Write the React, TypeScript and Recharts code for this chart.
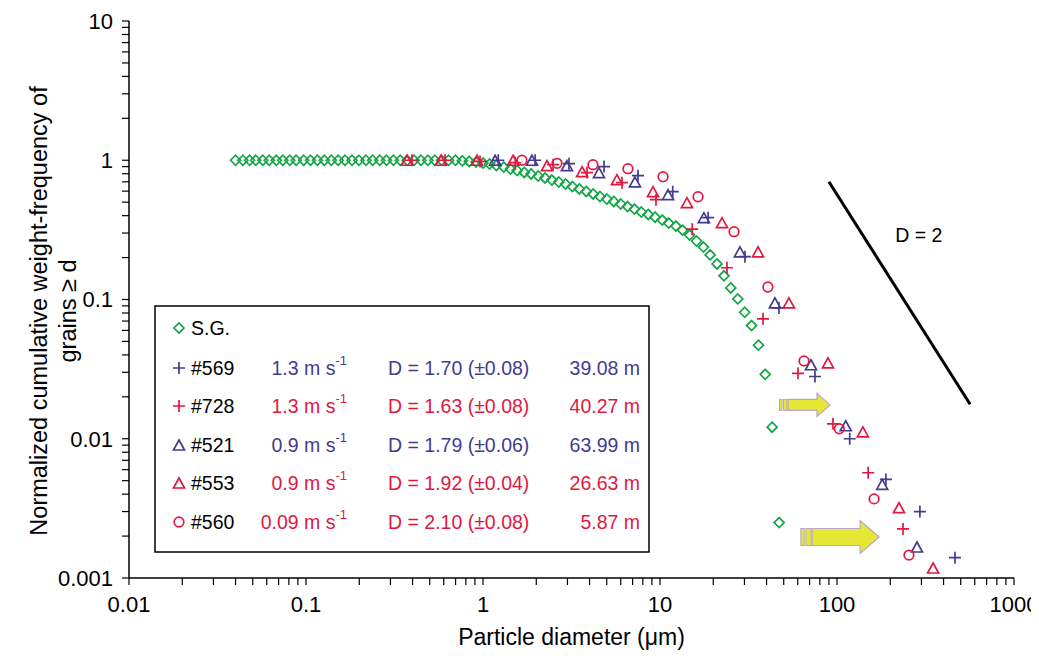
import React from 'react';
import { ScatterChart, Scatter, XAxis, YAxis, ReferenceLine, ReferenceDot, Legend, Label } from 'recharts';

const FONT = '"Liberation Sans", Arial, Helvetica, sans-serif';
const GREEN = '#12a546';
const BLUE = '#433b90';
const RED = '#e2173f';

// S.G. (diameter in um, cumulative fraction)
const SG_D = [
  0.040, 0.044, 0.048, 0.052, 0.057, 0.062, 0.068, 0.074, 0.081, 0.088, 0.097, 0.106, 0.116, 0.127,
  0.139, 0.152, 0.166, 0.182, 0.199, 0.218, 0.238, 0.261, 0.285, 0.312, 0.341, 0.373, 0.408, 0.446,
  0.488, 0.534, 0.584, 0.639, 0.699, 0.764, 0.836, 0.914, 1.0, 1.09, 1.19, 1.31, 1.43, 1.56, 1.71,
  1.87, 2.05, 2.24, 2.45, 2.68, 2.93, 3.2, 3.5, 3.83, 4.19, 4.58, 5.01, 5.48, 6.0, 6.56, 7.17, 7.84,
  8.58, 9.38, 10.3, 11.2, 12.3, 13.4, 14.7, 16.1, 17.6, 19.2, 21.0, 23.0, 25.1, 27.5, 30.1, 32.9,
  36.0, 39.3, 43.0, 47.1,
];
const SG_F = [
  1, 1, 1, 1, 1, 1, 1, 1, 1, 1, 1, 1, 1, 1, 1, 1, 1, 1, 1, 1, 1, 1, 1, 1, 1, 1, 1, 1, 1, 1, 1, 1, 1,
  0.99, 0.98, 0.97, 0.955, 0.94, 0.917, 0.894, 0.865, 0.844, 0.817, 0.797, 0.771, 0.746, 0.721,
  0.698, 0.675, 0.648, 0.622, 0.597, 0.573, 0.549, 0.527, 0.506, 0.485, 0.465, 0.446, 0.425, 0.408,
  0.39, 0.372, 0.354, 0.337, 0.315, 0.29, 0.263, 0.238, 0.209, 0.18, 0.148, 0.121, 0.101, 0.081,
  0.065, 0.047, 0.029, 0.0121, 0.0025,
];

const S569_D = [1.22, 1.97, 3.06, 4.83, 7.51, 11.8, 18.7, 30.2, 47.0, 75.1, 118, 189, 294, 464];
const S569_F = [1.0, 1.0, 0.945, 0.9, 0.775, 0.595, 0.387, 0.203, 0.087, 0.028, 0.01, 0.0051, 0.003, 0.0014];

const S728_D = [0.397, 0.61, 0.962, 1.52, 2.49, 3.87, 6.1, 9.49, 15.2, 23.9, 38.2, 60.2, 94.9, 150, 236];
const S728_F = [1.0, 1.0, 0.98, 0.96, 0.93, 0.815, 0.69, 0.521, 0.32, 0.169, 0.0727, 0.0295, 0.0128, 0.0057, 0.00225];

const S521_D = [1.17, 1.89, 2.98, 4.52, 7.22, 11.1, 17.7, 28.3, 44.6, 71.3, 112, 180, 283];
const S521_F = [1.0, 1.0, 0.915, 0.815, 0.7, 0.566, 0.387, 0.22, 0.0947, 0.034, 0.0124, 0.0047, 0.00167];

const S553_D = [0.372, 0.579, 0.925, 1.48, 2.3, 3.63, 5.71, 9.13, 14.2, 22.4, 35.8, 53.5, 88.9, 140, 224, 349];
const S553_F = [1.0, 1.0, 1.0, 1.0, 0.915, 0.828, 0.725, 0.595, 0.496, 0.356, 0.22, 0.0947, 0.0351, 0.0112, 0.0032, 0.00118];

const S560_D = [1.66, 2.62, 4.18, 6.59, 10.4, 16.4, 26.2, 40.7, 65.1, 103, 162, 255];
const S560_F = [1.0, 0.95, 0.93, 0.87, 0.762, 0.547, 0.307, 0.123, 0.0362, 0.0118, 0.0037, 0.00146];

// legend text
const NAMES = ['#569', '#728', '#521', '#553', '#560'];
const SPEEDS = ['1.3', '1.3', '0.9', '0.9', '0.09'];
const D_FITS = ['D = 1.70 (±0.08)', 'D = 1.63 (±0.08)', 'D = 1.79 (±0.06)', 'D = 1.92 (±0.04)', 'D = 2.10 (±0.08)'];
const DISTANCES = ['39.08 m', '40.27 m', '63.99 m', '26.63 m', '5.87 m'];

// axes
const X_MAJOR = [0.01, 0.1, 1, 10, 100, 1000];
const Y_MAJOR = [0.001, 0.01, 0.1, 1, 10];

// annotations
const SLOPE_LINE = [{ x: 90, y: 0.7 }, { x: 565, y: 0.0177 }];
const SLOPE_LABEL = { x: 290, y: 0.292, text: 'D = 2' };
const ARROW_TIPS = [{ x: 91.3, y: 0.0175 }, { x: 173, y: 0.00197 }];

const withMinors = (majors: number[]) =>
  majors.flatMap((m, i) =>
    i === majors.length - 1 ? [m] : [1, 2, 3, 4, 5, 6, 7, 8, 9].map((k) => (k === 1 ? m : +(m * k).toPrecision(3)))
  );

const toPoints = (d: number[], f: number[]) => d.map((v, i) => ({ d: v, f: f[i] }));

type Marker = 'diamond' | 'plus' | 'triangle' | 'circle';

const markerPath = (kind: Marker, color: string, cx: number, cy: number, key?: string) => {
  const sw = 1.7;
  if (kind === 'diamond')
    return <path key={key} d={`M${cx},${cy - 5}L${cx + 5},${cy}L${cx},${cy + 5}L${cx - 5},${cy}Z`} fill="none" stroke={color} strokeWidth={sw} />;
  if (kind === 'plus')
    return <path key={key} d={`M${cx - 6},${cy}H${cx + 6}M${cx},${cy - 6}V${cy + 6}`} fill="none" stroke={color} strokeWidth={sw} />;
  if (kind === 'triangle')
    return <path key={key} d={`M${cx},${cy - 5}L${cx + 5.5},${cy + 5}L${cx - 5.5},${cy + 5}Z`} fill="none" stroke={color} strokeWidth={sw} />;
  return <circle key={key} cx={cx} cy={cy} r={4.8} fill="none" stroke={color} strokeWidth={sw} />;
};

const shapeOf = (kind: Marker, color: string) => (props: any) => markerPath(kind, color, props.cx, props.cy);

const SERIES = [
  { key: 'sg', data: toPoints(SG_D, SG_F), color: GREEN, marker: 'diamond' as Marker },
  { key: '569', data: toPoints(S569_D, S569_F), color: BLUE, marker: 'plus' as Marker },
  { key: '728', data: toPoints(S728_D, S728_F), color: RED, marker: 'plus' as Marker },
  { key: '521', data: toPoints(S521_D, S521_F), color: BLUE, marker: 'triangle' as Marker },
  { key: '553', data: toPoints(S553_D, S553_F), color: RED, marker: 'triangle' as Marker },
  { key: '560', data: toPoints(S560_D, S560_F), color: RED, marker: 'circle' as Marker },
];

const ARROW_SIZES = [
  { body: 42, head: 13, bodyHalf: 5.5, headHalf: 11.5, stripes: [[-50.5, -48], [-46.5, -43]] },
  { body: 67, head: 19, bodyHalf: 8.5, headHalf: 16.5, stripes: [[-78.3, -75], [-73.3, -68]] },
];

const arrowShape = (size: (typeof ARROW_SIZES)[number]) => (props: any) => {
  const { cx, cy } = props;
  const { body, head, bodyHalf, headHalf, stripes } = size;
  const d = `M${cx - body},${cy - bodyHalf}L${cx - head},${cy - bodyHalf}L${cx - head},${cy - headHalf}L${cx},${cy}` +
    `L${cx - head},${cy + headHalf}L${cx - head},${cy + bodyHalf}L${cx - body},${cy + bodyHalf}Z`;
  return (
    <g>
      {stripes.map(([a, b], i) => (
        <rect key={i} x={cx + a} y={cy - bodyHalf} width={b - a} height={bodyHalf * 2} fill="#e6e635" stroke="#bba4cc" strokeWidth={1} />
      ))}
      <path d={d} fill="#e6e635" stroke="#bba4cc" strokeWidth={1.2} />
    </g>
  );
};

const LegendBox = () => {
  const rowY = [63, 101, 140, 178, 217];
  const markers: Marker[] = ['plus', 'plus', 'triangle', 'triangle', 'circle'];
  const colors = [BLUE, RED, BLUE, RED, RED];
  const fs = 19.5;
  return (
    <svg width={497} height={249} style={{ display: 'block', fontFamily: FONT }}>
      <rect x={1} y={1} width={494} height={246} fill="#fff" stroke="#000" strokeWidth={1.5} />
      {markerPath('diamond', GREEN, 25, 23)}
      <text x={37} y={23} fontSize={fs} dominantBaseline="central" fill="#000">S.G.</text>
      {NAMES.map((name, i) => (
        <g key={name}>
          {markerPath(markers[i], colors[i], 25, rowY[i])}
          <text x={37} y={rowY[i]} fontSize={fs} dominantBaseline="central" fill="#000">{name}</text>
          <text x={193} y={rowY[i]} fontSize={fs} dominantBaseline="central" textAnchor="end" fill={colors[i]}>
            {SPEEDS[i]} m s<tspan fontSize={13} dy={-8}>-1</tspan>
          </text>
          <text x={234} y={rowY[i]} fontSize={fs} dominantBaseline="central" fill={colors[i]}>{D_FITS[i]}</text>
          <text x={486} y={rowY[i]} fontSize={fs} dominantBaseline="central" textAnchor="end" fill={colors[i]}>{DISTANCES[i]}</text>
        </g>
      ))}
    </svg>
  );
};

const YTitle = () => (
  <text transform="translate(39, 303) rotate(-90)" textAnchor="middle" fontSize={23.5} fontFamily={FONT} fill="#000">
    <tspan x={0} dy={0}>Normalized cumulative weight-frequency of</tspan>
    <tspan x={0} dy={29}>grains ≥ d</tspan>
  </text>
);

export default function App() {
  const tickStyle = { fill: '#000', fontSize: 22, fontFamily: FONT };
  return (
    <ScatterChart width={1031} height={648} margin={{ top: 13, right: 25, bottom: 0, left: 0 }}>
      <XAxis
        type="number"
        dataKey="d"
        scale="log"
        domain={[0.01, 1000]}
        allowDataOverflow
        ticks={withMinors(X_MAJOR)}
        interval={0}
        tickFormatter={(v: number) => (X_MAJOR.includes(v) ? String(v) : '')}
        tick={tickStyle}
        tickSize={7}
        tickMargin={11}
        height={78}
        axisLine={{ stroke: '#000', strokeWidth: 1.5 }}
        tickLine={{ stroke: '#000', strokeWidth: 1.2 }}
      >
        <Label value="Particle diameter (μm)" position="insideBottom" offset={11} fill="#000" fontSize={23} fontFamily={FONT} />
      </XAxis>
      <YAxis
        type="number"
        dataKey="f"
        scale="log"
        domain={[0.001, 10]}
        allowDataOverflow
        ticks={withMinors(Y_MAJOR)}
        interval={0}
        tickFormatter={(v: number) => (Y_MAJOR.includes(v) ? String(v) : '')}
        tick={tickStyle}
        tickSize={7}
        tickMargin={9}
        width={121}
        axisLine={{ stroke: '#000', strokeWidth: 1.5 }}
        tickLine={{ stroke: '#000', strokeWidth: 1.2 }}
      >
        <Label content={YTitle} />
      </YAxis>
      {SERIES.map((s) => (
        <Scatter key={s.key} data={s.data} shape={shapeOf(s.marker, s.color)} isAnimationActive={false} />
      ))}
      <ReferenceLine segment={SLOPE_LINE} stroke="#000" strokeWidth={3} />
      <ReferenceDot
        x={SLOPE_LABEL.x}
        y={SLOPE_LABEL.y}
        r={0}
        shape={(p: any) => (
          <text x={p.cx} y={p.cy} textAnchor="middle" dominantBaseline="central" fontSize={19.5} fontFamily={FONT} fill="#000">
            {SLOPE_LABEL.text}
          </text>
        )}
      />
      {ARROW_TIPS.map((a, i) => (
        <ReferenceDot key={i} x={a.x} y={a.y} r={0} shape={arrowShape(ARROW_SIZES[i])} />
      ))}
      <Legend
        layout="horizontal"
        verticalAlign="middle"
        align="center"
        content={() => <LegendBox />}
        wrapperStyle={{ left: 146, top: 297, width: 497, height: 249 }}
      />
    </ScatterChart>
  );
}
